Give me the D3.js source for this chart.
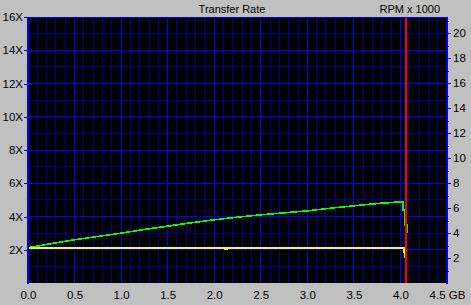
<!DOCTYPE html>
<html><head><meta charset="utf-8">
<script src="https://cdn.jsdelivr.net/npm/d3@7/dist/d3.min.js"></script>
<style>
html,body{margin:0;padding:0;background:#c0c0c0;}
svg{display:block;}
text{font-family:"Liberation Sans",Arial,sans-serif;font-size:11px;fill:#000;}
</style></head>
<body>
<script>
// ---- data ----
const title = "Transfer Rate";
const rightTitle = "RPM x 1000";
const xTicks = [0, 0.5, 1.0, 1.5, 2.0, 2.5, 3.0, 3.5, 4.0, 4.5];
const xTickLabels = ["0.0","0.5","1.0","1.5","2.0","2.5","3.0","3.5","4.0","4.5 GB"];
const yTicks = [2, 4, 6, 8, 10, 12, 14, 16];
const yTickLabels = ["2X","4X","6X","8X","10X","12X","14X","16X"];
const rpmTicks = [2, 4, 6, 8, 10, 12, 14, 16, 18, 20];
const rpmMinorTicks = [1, 3, 5, 7, 9, 11, 13, 15, 17, 19, 21];
// transfer rate (green): GB position, X speed
const rateGB = [0, 0.25, 0.5, 0.75, 1.0, 1.25, 1.5, 1.75, 2.0, 2.25, 2.5, 2.75, 3.0, 3.25, 3.5, 3.75, 4.0, 4.03, 4.03, 4.05, 4.05, 4.072, 4.072];
const rateX  = [2.12, 2.37, 2.6, 2.8, 3.0, 3.22, 3.42, 3.62, 3.8, 3.96, 4.1, 4.22, 4.34, 4.5, 4.64, 4.78, 4.88, 4.9, 4.4, 4.4, 3.5, 3.5, 3.0];
// rpm (yellow): GB position, RPM x 1000
const rpmGB  = [0, 2.12, 2.12, 2.14, 2.14, 4.04, 4.04, 4.052, 4.052, 4.06, 4.06];
const rpmVal = [2.78, 2.78, 2.7, 2.7, 2.78, 2.78, 2.5, 2.5, 2.1, 2.1, 1.7];
// end-of-disc marker (red)
const endGB = 4.06;

// ---- layout ----
const W = 471, H = 305;
const L = 28, R = 447, T = 17, B = 283;
const x = d3.scaleLinear().domain([0, 4.5]).range([L, R]);
const y = d3.scaleLinear().domain([0, 16]).range([B, T]);
const yR = d3.scaleLinear().domain([0, 21.28]).range([B, T]);

const svg = d3.select("body").append("svg").attr("width", W).attr("height", H);
svg.append("rect").attr("width", W).attr("height", H).attr("fill", "#c0c0c0");
svg.append("rect").attr("x", L).attr("y", T).attr("width", R - L).attr("height", B - T).attr("fill", "#000");

const grid = svg.append("g").attr("shape-rendering", "crispEdges");
// minor grid
grid.selectAll(".vmin").data(d3.range(1, 45).map(i => i / 10)).join("line")
  .attr("x1", d => x(d)).attr("x2", d => x(d)).attr("y1", T).attr("y2", B)
  .attr("stroke", "#000090").attr("stroke-width", 1);
grid.selectAll(".hmin").data(d3.range(1, 16)).join("line")
  .attr("x1", L).attr("x2", R).attr("y1", d => y(d)).attr("y2", d => y(d))
  .attr("stroke", "#000090").attr("stroke-width", 1);
// major grid
grid.selectAll(".vmaj").data(xTicks.slice(1, -1)).join("line")
  .attr("x1", d => x(d)).attr("x2", d => x(d)).attr("y1", T).attr("y2", B)
  .attr("stroke", "#0000ff").attr("stroke-width", 1);
grid.selectAll(".hmaj").data(yTicks).join("line")
  .attr("x1", L).attr("x2", R).attr("y1", d => y(d)).attr("y2", d => y(d))
  .attr("stroke", "#0000ff").attr("stroke-width", 1);

// lines
const rateData = rateGB.map((g, i) => [g, rateX[i]]);
const rpmData = rpmGB.map((g, i) => [g, rpmVal[i]]);
svg.append("path").datum(rateData)
  .attr("d", d3.line().x(d => x(d[0])).y(d => y(d[1])))
  .attr("fill", "none").attr("stroke", "#00ff00").attr("stroke-width", 1.6)
  .attr("shape-rendering", "crispEdges");
svg.append("path").datum(rpmData)
  .attr("d", d3.line().x(d => x(d[0])).y(d => yR(d[1])))
  .attr("fill", "none").attr("stroke", "#ffff00").attr("stroke-width", 2)
  .attr("shape-rendering", "crispEdges");
svg.append("line").attr("x1", x(endGB)).attr("x2", x(endGB)).attr("y1", T).attr("y2", B)
  .attr("stroke", "#ff0000").attr("stroke-width", 1.5).attr("shape-rendering", "crispEdges");

// axes
const axL = d3.axisLeft(y).tickValues(yTicks).tickFormat((d, i) => yTickLabels[i]).tickSize(4).tickPadding(1);
const gL = svg.append("g").attr("transform", `translate(${L},0)`).call(axL);
gL.select(".domain").remove();
gL.selectAll(".tick line").attr("stroke", "#0000ff").attr("shape-rendering", "crispEdges");
gL.selectAll("text").style("font-size", "11.5px").style("font-family", "Liberation Sans, Arial, sans-serif");

const axR = d3.axisRight(yR).tickValues(rpmTicks).tickSize(4).tickPadding(2);
const gR = svg.append("g").attr("transform", `translate(${R},0)`).call(axR);
gR.select(".domain").remove();
gR.selectAll(".tick line").attr("stroke", "#0000ff").attr("shape-rendering", "crispEdges");
gR.selectAll("text").style("font-size", "11.5px").style("font-family", "Liberation Sans, Arial, sans-serif");
const axRm = d3.axisRight(yR).tickValues(rpmMinorTicks).tickSize(2).tickFormat("");
const gRm = svg.append("g").attr("transform", `translate(${R},0)`).call(axRm);
gRm.select(".domain").remove();
gRm.selectAll(".tick line").attr("stroke", "#0000ff").attr("shape-rendering", "crispEdges");

const axB = d3.axisBottom(x).tickValues(xTicks).tickFormat((d, i) => xTickLabels[i]).tickSize(0).tickPadding(8);
const gB = svg.append("g").attr("transform", `translate(0,${B})`).call(axB);
gB.select(".domain").remove();
gB.selectAll("text").style("font-size", "11.5px").style("font-family", "Liberation Sans, Arial, sans-serif");

// frame
const fr = svg.append("g").attr("shape-rendering", "crispEdges").attr("stroke", "#0000ff");
fr.append("line").attr("x1", L).attr("x2", R).attr("y1", T).attr("y2", T).attr("stroke-width", 1);
fr.append("line").attr("x1", L).attr("x2", L).attr("y1", T).attr("y2", B + 1).attr("stroke-width", 2);
fr.append("line").attr("x1", R).attr("x2", R).attr("y1", T).attr("y2", B + 1).attr("stroke-width", 2);

// titles
svg.append("text").attr("x", 232).attr("y", 13).attr("text-anchor", "middle").text(title);
svg.append("text").attr("x", 440).attr("y", 13).attr("text-anchor", "end").text(rightTitle);
</script>
</body></html>
